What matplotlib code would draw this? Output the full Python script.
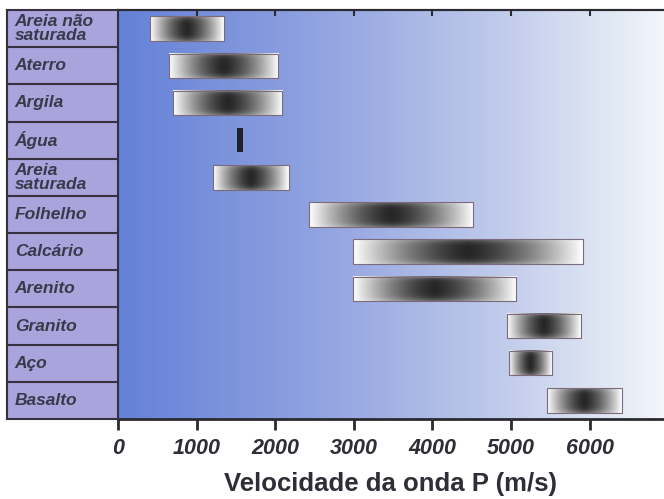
import numpy as np
import matplotlib
matplotlib.use("Agg")
import matplotlib.pyplot as plt
from matplotlib.colors import LinearSegmentedColormap
from matplotlib.patches import Rectangle

# materiais e faixas de velocidade da onda P (m/s)
materiais = ["Areia não\nsaturada", "Aterro", "Argila", "Água", "Areia\nsaturada",
             "Folhelho", "Calcário", "Arenito", "Granito", "Aço", "Basalto"]
v_min = [410, 650, 700, 1520, 1210, 2430, 2990, 2990, 4950, 4975, 5460]
v_max = [1350, 2040, 2090, 1595, 2170, 4520, 5915, 5065, 5890, 5520, 6410]
ticks = [0, 1000, 2000, 3000, 4000, 5000, 6000]

fig = plt.figure(figsize=(6.64, 4.99), dpi=100)
fig.patch.set_facecolor("white")

W, H = 664, 499
ax = fig.add_axes([118 / W, 1 - 419 / H, (W - 118) / W, (419 - 10) / H])
lab = fig.add_axes([7 / W, 1 - 419 / H, (118 - 7) / W, (419 - 10) / H])

n = len(materiais)

# fundo em degrade azul -> branco
bg = LinearSegmentedColormap.from_list("bg", [
    (0.0, "#6481d8"), (0.4, "#95a6e1"), (0.7, "#c0cbeb"),
    (0.88, "#dde5f3"), (1.0, "#f3f6fb")])
grad = np.linspace(0, 1, 256).reshape(1, -1)
ax.imshow(grad, cmap=bg, aspect="auto", extent=[0, 1, 0, 1],
          transform=ax.transAxes, zorder=0)

ax.set_xlim(0, 6945)
ax.set_ylim(n - 0.5, -0.5)

# barras com degrade (escuro no centro, branco nas pontas)
u = np.abs(np.linspace(-1, 1, 200))[None, :]
v = np.abs(np.linspace(-1, 1, 30))[:, None]
g = 0.15 + 0.85 * u ** 1.4
g = g + (1 - g) * 0.3 * v ** 4
h = 0.33
for i in range(n):
    if materiais[i] == "Água":
        ax.add_patch(Rectangle((v_min[i], i - h), v_max[i] - v_min[i], 2 * h,
                               facecolor="#222226", edgecolor="none", zorder=3))
        continue
    ax.imshow(g, cmap="gray", vmin=0, vmax=1, aspect="auto", interpolation="bilinear",
              extent=[v_min[i], v_max[i], i + h, i - h], zorder=2)
    ax.add_patch(Rectangle((v_min[i], i - h), v_max[i] - v_min[i], 2 * h,
                           facecolor="none", edgecolor="#7a6a7c", lw=0.8, zorder=3))

ax.set_yticks([])
ax.set_xticks(ticks)
ax.set_xticklabels([str(t) for t in ticks], fontfamily="Liberation Sans",
                   fontstyle="italic", fontweight="bold", fontsize=15.5, color="#2e2e36")
ax.tick_params(axis="x", direction="out", length=8, width=2, color="#2a2a30", pad=6)
ax.set_xlabel("Velocidade da onda P (m/s)", fontfamily="Liberation Sans",
              fontweight="bold", fontsize=18.5, color="#2e2e36", labelpad=9)

for s in ["left", "bottom", "top"]:
    ax.spines[s].set_color("#2a2a30")
ax.spines["bottom"].set_linewidth(2)
ax.spines["top"].set_linewidth(1.5)
ax.spines["left"].set_linewidth(1.5)
ax.spines["right"].set_visible(False)

top = ax.secondary_xaxis("top")
top.set_xticks(ticks[1:])
top.tick_params(direction="in", length=4, width=1.5, color="#2a2a30", labeltop=False)
top.spines["top"].set_color("#2a2a30")
top.spines["top"].set_linewidth(1.5)

# painel dos nomes
lab.set_facecolor("#aaa4dc")
lab.set_xlim(0, 1)
lab.set_ylim(n - 0.5, -0.5)
lab.set_xticks([])
lab.set_yticks([])
for i in range(n - 1):
    lab.axhline(i + 0.5, color="#363040", lw=1.5)
for s in lab.spines.values():
    s.set_color("#363040")
    s.set_linewidth(1.5)
for i, nome in enumerate(materiais):
    lab.text(0.07, i, nome, ha="left", va="center", fontfamily="Liberation Sans",
             fontstyle="italic", fontweight="bold", fontsize=12.5, color="#3a384a",
             linespacing=0.95)

fig.savefig("out.png", dpi=100)
